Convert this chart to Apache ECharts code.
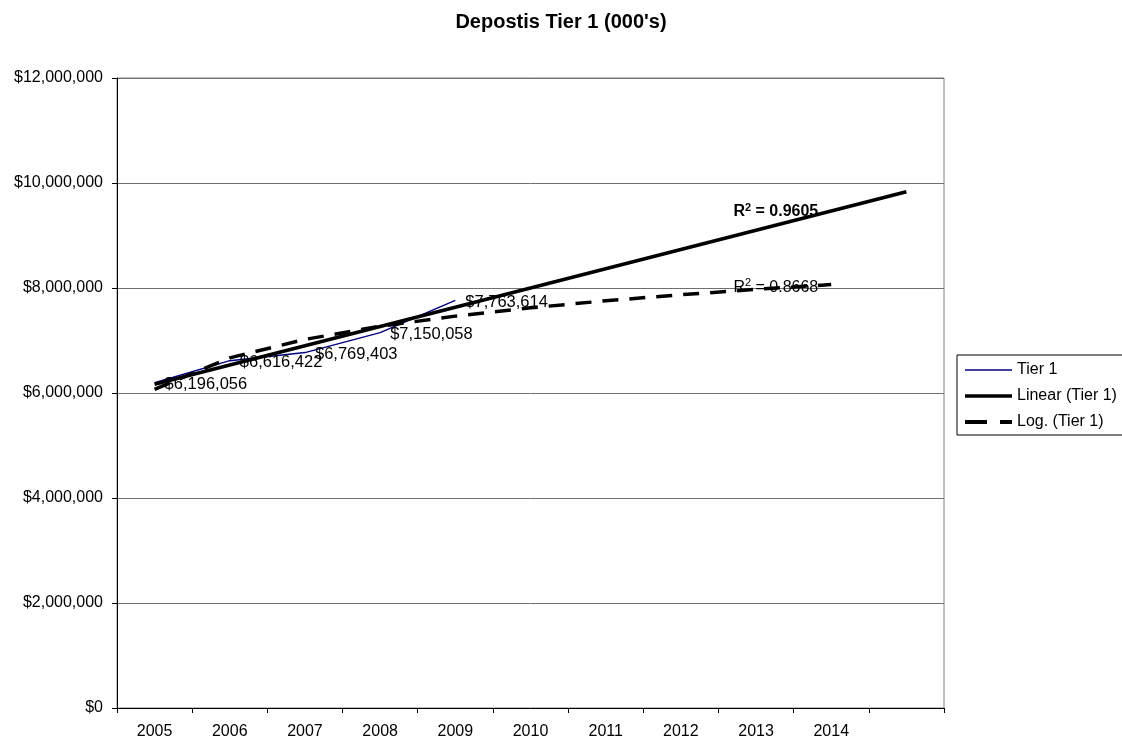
<!DOCTYPE html>
<html>
<head>
<meta charset="utf-8">
<title>Depostis Tier 1 (000's)</title>
<script src="https://cdn.jsdelivr.net/npm/echarts@6/dist/echarts.min.js"></script>
<style>
  html, body { margin: 0; padding: 0; background: #ffffff; }
  #chart { width: 1122px; height: 741px; }
</style>
</head>
<body>
<div id="chart"></div>
<script>
// Year categories; the last slot is the unlabelled forecast period
const years = ['2005', '2006', '2007', '2008', '2009', '2010', '2011', '2012', '2013', '2014', ''];
// Tier 1 deposits (000's), actuals 2005-2009
const tier1 = [6196056, 6616422, 6769403, 7150058, 7763614];
// Y axis ticks
const yTicks = [0, 2000000, 4000000, 6000000, 8000000, 10000000, 12000000];

// Least-squares fits on x = 1..n (linear, and y = a*ln(x) + b)
function fit(xs, ys) {
  const n = xs.length;
  const mx = xs.reduce((s, v) => s + v, 0) / n;
  const my = ys.reduce((s, v) => s + v, 0) / n;
  let sxy = 0, sxx = 0, syy = 0;
  for (let i = 0; i < n; i++) {
    sxy += (xs[i] - mx) * (ys[i] - my);
    sxx += (xs[i] - mx) * (xs[i] - mx);
    syy += (ys[i] - my) * (ys[i] - my);
  }
  const slope = sxy / sxx;
  return { slope, icpt: my - slope * mx, r2: (sxy * sxy) / (sxx * syy) };
}
const xIdx = tier1.map((_, i) => i + 1);
const lin = fit(xIdx, tier1);
const lg = fit(xIdx.map(Math.log), tier1);

// Linear trend runs across every slot; log trend stops at 2014
const linearTrend = years.map((_, i) => lin.icpt + lin.slope * (i + 1));
const logTrend = years.map((_, i) => i <= 9 ? lg.icpt + lg.slope * Math.log(i + 1) : null);

const money = v => '$' + Math.round(v).toLocaleString('en-US');
const FONT = 'Liberation Sans, Arial, sans-serif';

function r2Label(r2, bold, dy) {
  const w = bold ? 'bold' : 'normal';
  return {
    show: true,
    position: 'left',
    distance: 12,
    offset: [0, dy],
    formatter: '{b|R}{sup|2}{b| = ' + r2.toFixed(4) + '}',
    rich: {
      b: { fontSize: 16, fontFamily: FONT, color: '#000', fontWeight: w },
      sup: { fontSize: 11, fontFamily: FONT, color: '#000', fontWeight: w, padding: [0, 0, 9, 0] }
    }
  };
}

const linearData = linearTrend.map((v, i) => i === 9 ? { value: v, label: r2Label(lin.r2, true, 1) } : v);
const logData = logTrend.map((v, i) => i === 9 ? { value: v, label: r2Label(lg.r2, false, 3) } : v);

// Invisible point markers: they only carry the labels
const hiddenPoint = { color: 'transparent', borderColor: 'transparent', borderWidth: 0 };

const chart = echarts.init(document.getElementById('chart'), null, { renderer: 'canvas' });
chart.setOption({
  animation: false,
  backgroundColor: '#ffffff',
  textStyle: { fontFamily: FONT },
  title: {
    text: "Depostis Tier 1 (000's)",
    left: 'center',
    top: 7,
    textStyle: { fontSize: 20, fontWeight: 'bold', color: '#000', fontFamily: FONT }
  },
  legend: {
    orient: 'vertical',
    left: 957,
    top: 355,
    padding: [7, 14, 5, 6],
    itemWidth: 47,
    itemHeight: 14,
    itemGap: 10,
    borderColor: '#000',
    borderWidth: 1,
    itemStyle: { color: 'transparent', borderColor: 'transparent', borderWidth: 0 },
    textStyle: { fontSize: 16, color: '#000', fontFamily: FONT },
    data: [
      { name: 'Tier 1', lineStyle: { color: '#000080', width: 1.5 } },
      { name: 'Linear (Tier 1)', lineStyle: { color: '#000', width: 3.5 } },
      { name: 'Log. (Tier 1)', lineStyle: { color: '#000', width: 4, type: [22, 13] } }
    ]
  },
  grid: {
    left: 117, right: 178, top: 78, bottom: 33,
    show: true, borderColor: '#808080', borderWidth: 1
  },
  xAxis: {
    type: 'category',
    data: years,
    boundaryGap: true,
    axisLine: { lineStyle: { color: '#000', width: 1 } },
    axisTick: { show: true, length: 5, alignWithLabel: false, lineStyle: { color: '#000' } },
    axisLabel: { fontSize: 16, color: '#000', margin: 16, fontFamily: FONT, interval: 0 },
    splitLine: { show: false }
  },
  yAxis: {
    type: 'value',
    min: yTicks[0],
    max: yTicks[yTicks.length - 1],
    interval: yTicks[1] - yTicks[0],
    axisLine: { show: true, lineStyle: { color: '#000', width: 1 } },
    axisTick: { show: true, length: 5, lineStyle: { color: '#000' } },
    axisLabel: { fontSize: 16, color: '#000', margin: 14, fontFamily: FONT, formatter: money },
    splitLine: { show: true, lineStyle: { color: '#707070', width: 1 } }
  },
  series: [
    {
      name: 'Tier 1',
      type: 'line',
      data: tier1,
      symbol: 'circle',
      symbolSize: 2,
      showSymbol: true,
      z: 2,
      lineStyle: { color: '#000080', width: 1.5 },
      itemStyle: hiddenPoint,
      label: {
        show: true,
        position: 'right',
        distance: 9,
        offset: [0, 2],
        fontSize: 16.5,
        color: '#000',
        fontFamily: FONT,
        formatter: p => money(p.value)
      }
    },
    {
      name: 'Linear (Tier 1)',
      type: 'line',
      data: linearData,
      symbol: 'circle',
      symbolSize: 2,
      showSymbol: true,
      z: 3,
      lineStyle: { color: '#000', width: 3.5 },
      itemStyle: hiddenPoint,
      label: { show: false }
    },
    {
      name: 'Log. (Tier 1)',
      type: 'line',
      data: logData,
      symbol: 'circle',
      symbolSize: 2,
      showSymbol: true,
      z: 3,
      connectNulls: false,
      lineStyle: { color: '#000', width: 3.5, type: [16, 11] },
      itemStyle: hiddenPoint,
      label: { show: false }
    }
  ]
});
</script>
</body>
</html>
